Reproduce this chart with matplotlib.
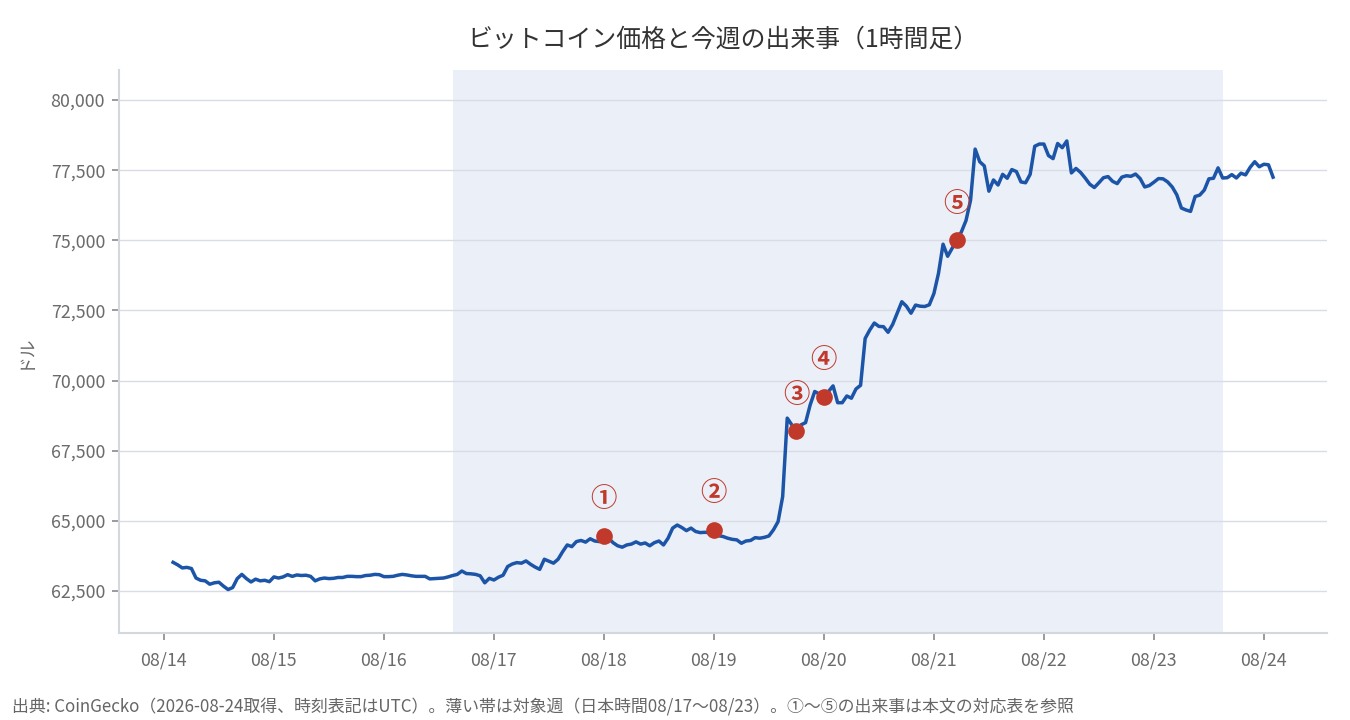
import matplotlib
matplotlib.use("Agg")
import matplotlib.pyplot as plt
import matplotlib.dates as mdates
import pandas as pd

plt.rcParams['font.family'] = ['Noto Sans CJK JP', 'DejaVu Sans']

# ---- data (hourly, UTC) ----
start_time = "2026-08-14 02:00"
prices = [
    63520, 63430, 63320, 63340, 63300, 62960, 62880, 62860, 62740, 62790,
    62810, 62670, 62550, 62620, 62940, 63090, 62940, 62820, 62920, 62860,
    62880, 62830, 63000, 62960, 63000, 63080, 63020, 63070, 63050, 63060,
    63020, 62860, 62930, 62960, 62940, 62950, 62980, 62980, 63020, 63020,
    63010, 63010, 63050, 63060, 63090, 63080, 63010, 63010, 63020, 63060,
    63090, 63070, 63040, 63020, 63020, 63020, 62930, 62940, 62950, 62960,
    63000, 63050, 63090, 63210, 63120, 63110, 63090, 63040, 62790, 62950,
    62890, 62990, 63060, 63370, 63460, 63510, 63490, 63570, 63450, 63350,
    63270, 63630, 63560, 63490, 63630, 63900, 64140, 64080, 64260, 64300,
    64240, 64360, 64280, 64260, 64460, 64380, 64220, 64110, 64060, 64140,
    64170, 64250, 64170, 64210, 64110, 64220, 64280, 64140, 64380, 64740,
    64850, 64760, 64650, 64740, 64620, 64580, 64590, 64580, 64680, 64470,
    64440, 64380, 64340, 64320, 64200, 64280, 64300, 64400, 64380, 64410,
    64460, 64680, 64970, 65860, 68660, 68420, 68200, 68420, 68500, 69130,
    69610, 69520, 69420, 69610, 69810, 69210, 69210, 69450, 69370, 69700,
    69830, 71500, 71800, 72050, 71930, 71920, 71720, 72000, 72400, 72810,
    72650, 72400, 72690, 72650, 72640, 72700, 73100, 73820, 74860, 74430,
    74720, 75000, 75300, 75700, 76430, 78250, 77800, 77650, 76750, 77150,
    76970, 77350, 77210, 77520, 77450, 77080, 77050, 77350, 78350, 78430,
    78430, 78020, 77910, 78450, 78300, 78540, 77400, 77560, 77420, 77220,
    77000, 76880, 77050, 77230, 77270, 77100, 77020, 77250, 77300, 77280,
    77360, 77200, 76900, 76950, 77070, 77200, 77190, 77080, 76900, 76620,
    76150, 76080, 76030, 76560, 76610, 76790, 77190, 77210, 77580, 77220,
    77230, 77340, 77220, 77390, 77330, 77600, 77800, 77620, 77710, 77690,
    77250,
]
event_labels = ["①", "②", "③", "④", "⑤"]
event_times = ["2026-08-18 00:00", "2026-08-19 00:00", "2026-08-19 18:00",
               "2026-08-20 00:00", "2026-08-21 05:00"]
band_start = "2026-08-16 15:00"   # JST 08/17 00:00
band_end = "2026-08-23 15:00"     # JST 08/23 24:00
y_ticks = [62500, 65000, 67500, 70000, 72500, 75000, 77500, 80000]

title = "ビットコイン価格と今週の出来事（1時間足）"
y_label = "ドル"
footer = ("出典: CoinGecko（2026-08-24取得、時刻表記はUTC）。薄い帯は対象週"
          "（日本時間08/17〜08/23）。①〜⑤の出来事は本文の対応表を参照")

# ---- build ----
times = pd.date_range(start_time, periods=len(prices), freq="h")
series = pd.Series(prices, index=times)

fig = plt.figure(figsize=(13.5, 7.2), dpi=100)
ax = fig.add_axes([0.0881, 0.1208, 0.8948, 0.782])

line_color = "#1c55a8"
red = "#c0392b"
grid_color = "#d9dce4"
spine_color = "#d3d7de"
text_gray = "#6b6b6b"

ax.axvspan(pd.Timestamp(band_start), pd.Timestamp(band_end),
           color="#ebf0f8", zorder=0, lw=0)
ax.plot(series.index, series.values, color=line_color, lw=2.5, zorder=3,
        solid_joinstyle="round")

for lab, t in zip(event_labels, event_times):
    ts = pd.Timestamp(t)
    v = series.loc[ts]
    ax.plot([ts], [v], "o", color=red, ms=12, zorder=4, mec="none")
    ax.annotate(lab, (ts, v), xytext=(0, 36), textcoords="offset pixels",
                ha="center", va="center", color=red, fontsize=19,
                fontweight="bold", zorder=5)

ax.set_ylim(61000, 81070)
ax.set_yticks(y_ticks)
ax.set_yticklabels([f"{v:,}" for v in y_ticks])
x0 = pd.Timestamp("2026-08-14 00:00")
ax.set_xlim(x0 - pd.Timedelta(days=0.409), x0 + pd.Timedelta(days=10.573))
ax.xaxis.set_major_locator(mdates.DayLocator())
ax.xaxis.set_major_formatter(mdates.DateFormatter("%m/%d"))

ax.grid(axis="y", color=grid_color, lw=1.0, zorder=1)
ax.set_axisbelow(True)
for s in ["top", "right"]:
    ax.spines[s].set_visible(False)
for s in ["left", "bottom"]:
    ax.spines[s].set_color(spine_color)
    ax.spines[s].set_linewidth(1.5)
ax.tick_params(axis="both", colors="#8a8a8a", labelcolor=text_gray,
               labelsize=12.8, length=5, width=1.2, direction="out")
ax.tick_params(axis="x", pad=8)
ax.tick_params(axis="y", pad=5)

ax.set_ylabel(y_label, color=text_gray, fontsize=12.8, labelpad=12)
ax.set_title(title, color="#333333", fontsize=17.9, pad=17)

fig.text(0.009, 0.011, footer, color="#666666", fontsize=12.2,
         ha="left", va="baseline")

fig.savefig("out.png", dpi=100)
